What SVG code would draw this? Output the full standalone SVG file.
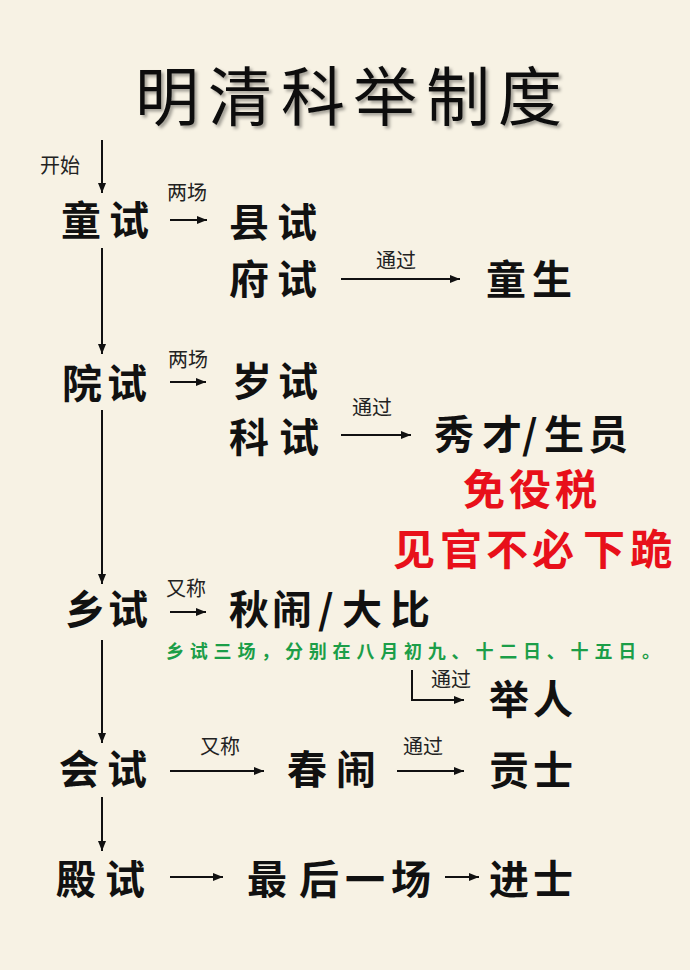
<svg xmlns="http://www.w3.org/2000/svg" width="690" height="970" viewBox="0 0 690 970">
<defs>
<marker id="ah" markerUnits="userSpaceOnUse" markerWidth="10" markerHeight="8" refX="10" refY="4" orient="auto">
<path d="M0,0 L10,4 L0,8 z" fill="#111"/>
</marker>
<filter id="sh" x="-10%" y="-20%" width="130%" height="150%">
<feDropShadow dx="2.5" dy="2.5" stdDeviation="1.5" flood-color="#000" flood-opacity="0.35"/>
</filter>
</defs>
<style>
text{font-family:"Noto Sans CJK SC","Noto Sans CJK TC",sans-serif;dominant-baseline:central}
.title{font-size:64px;font-weight:400;fill:#111}
.m{font-size:40px;font-weight:700;fill:#111}
.s{font-size:20px;font-weight:400;fill:#222}
.r{font-size:42px;font-weight:700;fill:#E8101A}
.g{font-size:18px;font-weight:700;fill:#1C9E48;letter-spacing:5.8px}
.ca{stroke:#111;stroke-width:2;fill:none;marker-end:url(#ah)}
</style>
<rect width="690" height="970" fill="#F7F2E4"/>
<g id="title" filter="url(#sh)">
<text class="title" x="135 208 281 353 426 498" y="92">明清科举制度</text>
</g>
<g id="connectors">
<line class="ca" x1="102" y1="140" x2="102" y2="193"/>
<line class="ca" x1="102" y1="248" x2="102" y2="354"/>
<line class="ca" x1="102" y1="410" x2="102" y2="584"/>
<line class="ca" x1="102" y1="640" x2="102" y2="743"/>
<line class="ca" x1="102" y1="797" x2="102" y2="851"/>
<line class="ca" x1="170" y1="220" x2="207" y2="220"/>
<line class="ca" x1="341" y1="279" x2="460" y2="279"/>
<line class="ca" x1="170" y1="382" x2="206" y2="382"/>
<line class="ca" x1="341" y1="435" x2="411" y2="435"/>
<line class="ca" x1="170" y1="612" x2="206" y2="612"/>
<polyline class="ca" points="412,670 412,700 464,700"/>
<line class="ca" x1="170" y1="771" x2="264" y2="771"/>
<line class="ca" x1="397" y1="771" x2="464" y2="771"/>
<line class="ca" x1="170" y1="877" x2="223" y2="877"/>
<line class="ca" x1="445" y1="877" x2="479" y2="877"/>
</g>
<g id="labels">
<text class="s" x="40" y="164">开始</text>
<text class="s" x="167" y="191">两场</text>
<text class="s" x="376" y="259">通过</text>
<text class="s" x="168" y="358">两场</text>
<text class="s" x="352" y="406">通过</text>
<text class="s" x="166" y="587">又称</text>
<text class="s" x="431" y="678">通过</text>
<text class="s" x="200" y="745">又称</text>
<text class="s" x="403" y="745">通过</text>
</g>
<g id="tongshi"><text class="m" x="61 109" y="218">童试</text></g>
<g id="xianshi"><text class="m" x="229 277" y="220">县试</text></g>
<g id="fushi"><text class="m" x="229 277" y="277">府试</text></g>
<g id="tongsheng"><text class="m" x="486 532" y="277">童生</text></g>
<g id="yuanshi"><text class="m" x="62 107" y="381">院试</text></g>
<g id="suishi"><text class="m" x="232 278" y="379">岁试</text></g>
<g id="keshi"><text class="m" x="229 279" y="435">科试</text></g>
<g id="xiucai"><text class="m" x="434 482 522 544 588" y="432">秀才/生员</text></g>
<g id="benefit1"><text class="r" x="463 509 555" y="486">免役税</text></g>
<g id="benefit2"><text class="r" x="393 440 486 532 583 630" y="546">见官不必下跪</text></g>
<g id="xiangshi"><text class="m" x="65 108" y="607">乡试</text></g>
<g id="qiuwei"><text class="m" x="229 272 318 342 390" y="607">秋闹/大比</text></g>
<g id="note"><text class="g" x="166" y="650">乡试三场，分别在八月初九、十二日、十五日。</text></g>
<g id="juren"><text class="m" x="489 533" y="697">举人</text></g>
<g id="huishi"><text class="m" x="59 107" y="767">会试</text></g>
<g id="chunwei"><text class="m" x="287 336" y="767">春闹</text></g>
<g id="gongshi"><text class="m" x="489 533" y="768">贡士</text></g>
<g id="dianshi"><text class="m" x="56 105" y="877">殿试</text></g>
<g id="zuihou"><text class="m" x="247 299 345 391" y="877">最后一场</text></g>
<g id="jinshi"><text class="m" x="489 533" y="877">进士</text></g>
</svg>
